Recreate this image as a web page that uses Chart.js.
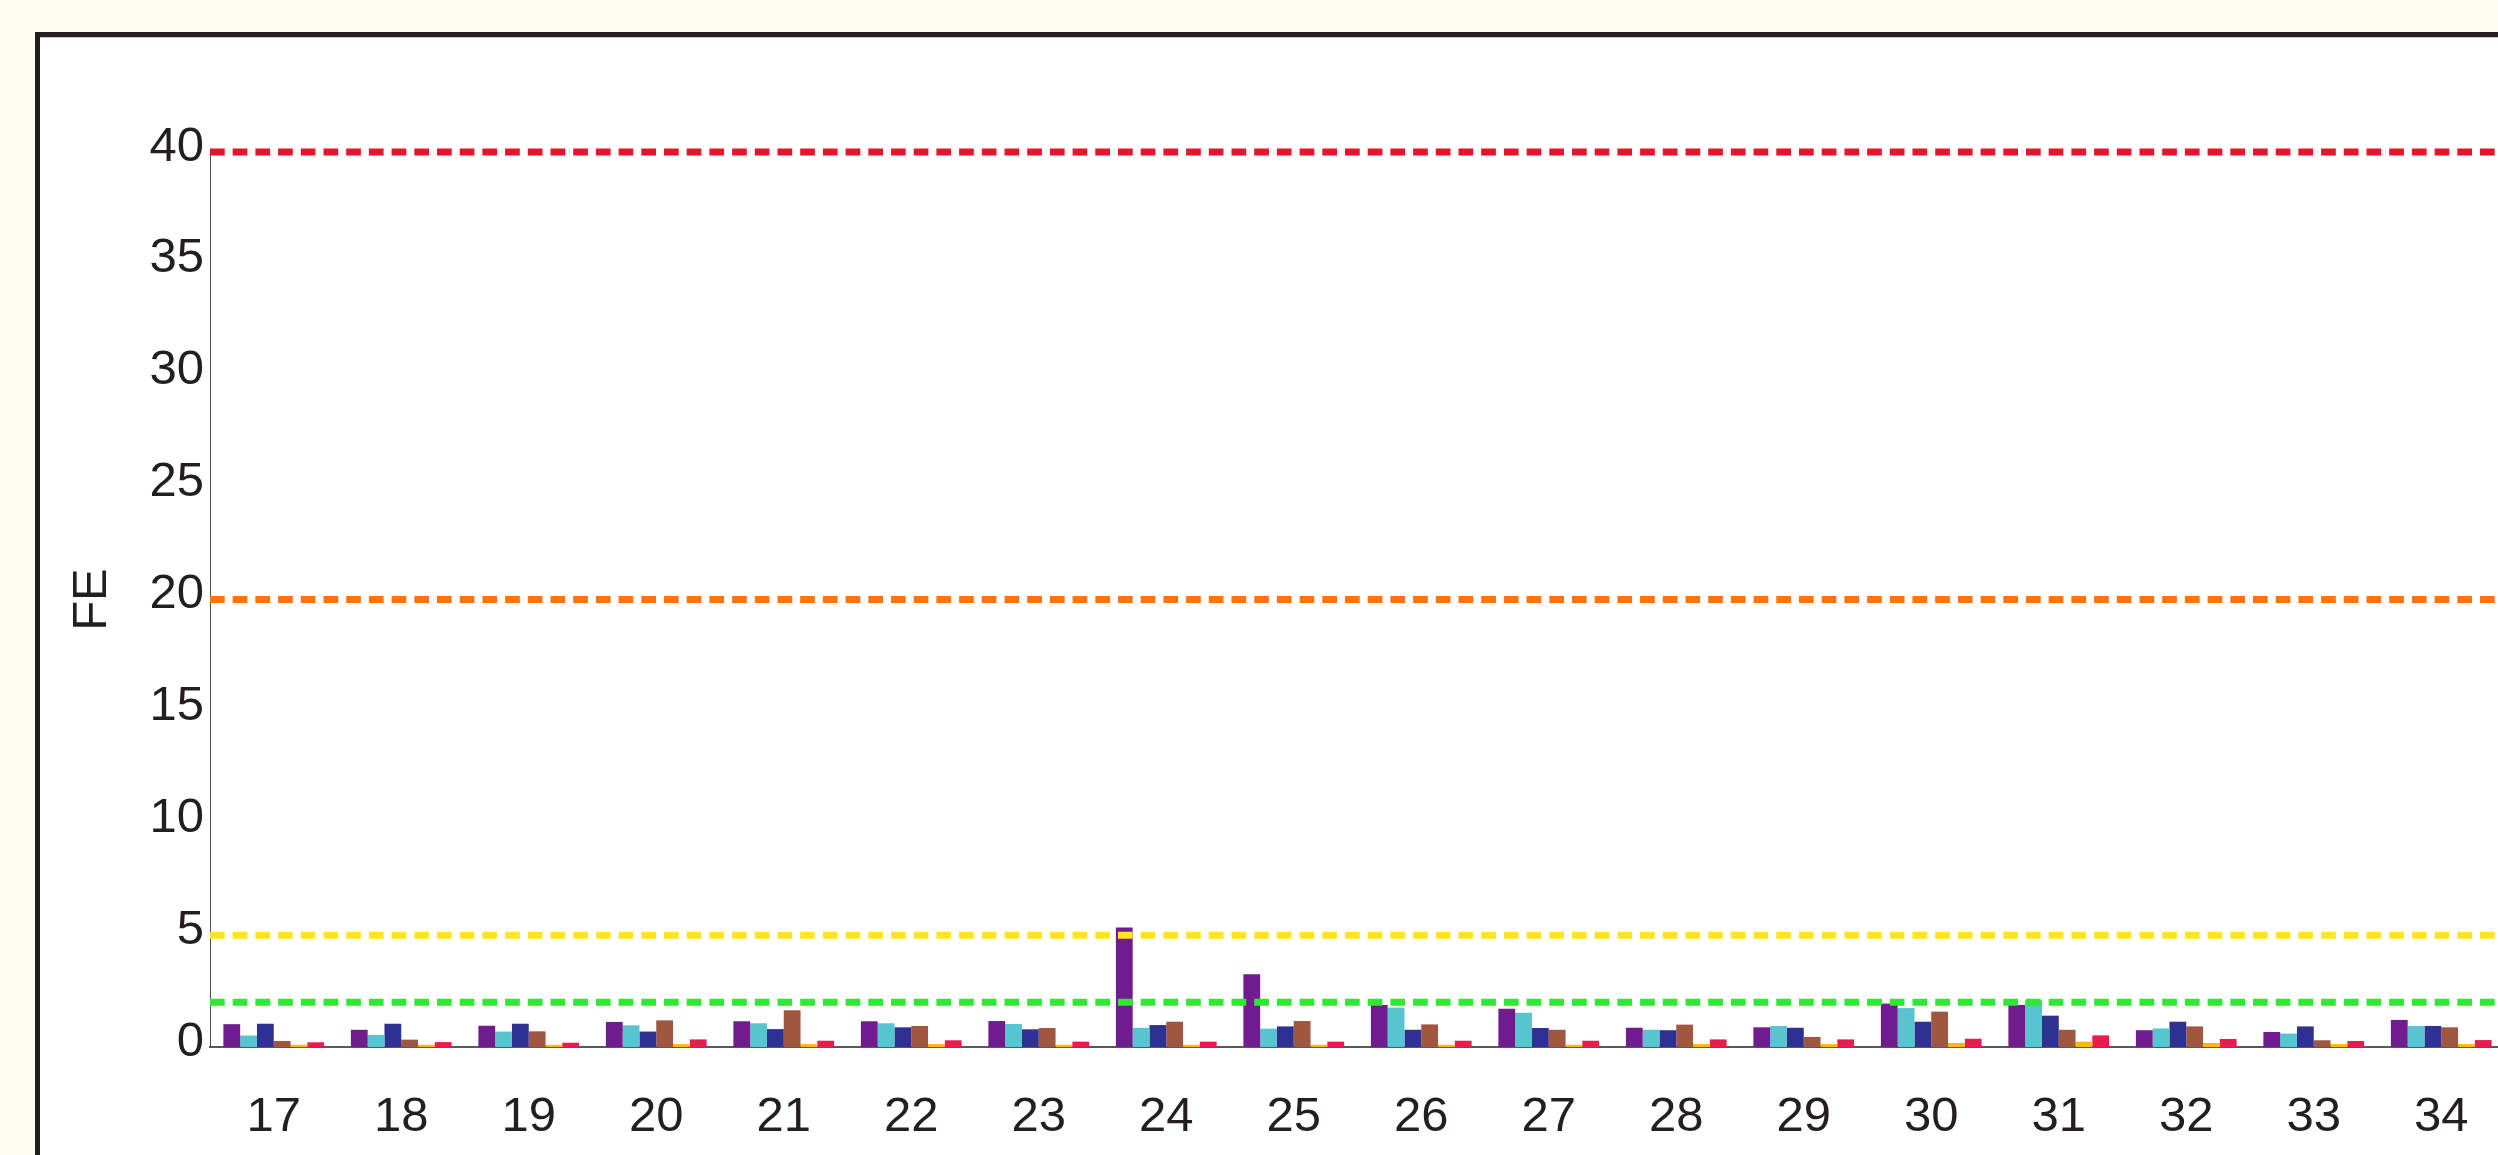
<!DOCTYPE html>
<html>
<head>
<meta charset="utf-8">
<script src="https://cdn.jsdelivr.net/npm/chart.js@4.4.1/dist/chart.umd.min.js"></script>
<style>
html, body { margin: 0; padding: 0; background: #FFFCF2; overflow: hidden; width: 2498px; height: 1155px; }
#frame { position: absolute; left: 35px; top: 32px; width: 2600px; height: 1300px; border: 5px solid #231F20; box-sizing: border-box; background: #fff; box-shadow: inset 0 1px 0 #c4c4c4; }
#myChart { position: absolute; left: 0; top: 0; }
</style>
</head>
<body>
<div id="frame"></div>
<canvas id="myChart" width="2520" height="1155"></canvas>
<script>
const categories = ['17', '18', '19', '20', '21', '22', '23', '24', '25', '26', '27', '28', '29', '30', '31', '32', '33', '34'];

const purpleSeries = [1.02, 0.77, 0.95, 1.12, 1.15, 1.15, 1.16, 5.34, 3.25, 1.88, 1.71, 0.86, 0.88, 1.94, 1.88, 0.75, 0.67, 1.21];
const cyanSeries   = [0.51, 0.54, 0.69, 0.97, 1.06, 1.06, 1.03, 0.86, 0.82, 1.76, 1.53, 0.77, 0.94, 1.74, 2.09, 0.83, 0.60, 0.94];
const navySeries   = [1.04, 1.04, 1.04, 0.69, 0.80, 0.88, 0.79, 0.98, 0.92, 0.77, 0.85, 0.75, 0.86, 1.13, 1.40, 1.13, 0.92, 0.94];
const brownSeries  = [0.27, 0.33, 0.70, 1.19, 1.64, 0.94, 0.85, 1.13, 1.16, 1.01, 0.77, 1.00, 0.45, 1.58, 0.77, 0.92, 0.30, 0.88];
const goldSeries   = [0.10, 0.10, 0.10, 0.13, 0.13, 0.13, 0.10, 0.10, 0.10, 0.10, 0.10, 0.13, 0.13, 0.18, 0.24, 0.18, 0.13, 0.13];
const redSeries    = [0.21, 0.22, 0.19, 0.34, 0.28, 0.30, 0.24, 0.24, 0.24, 0.28, 0.28, 0.34, 0.34, 0.37, 0.52, 0.36, 0.27, 0.31];

const thresholds = [40, 20, 5, 2];
const thresholdColours = ['#E8132D', '#FF7410', '#FFE420', '#2EE831'];

const yMin = 0;
const yMax = 40;
const yStep = 5;

const textColour = '#231F20';
const fontFamily = "'Liberation Sans', Arial, Helvetica, sans-serif";

// dashed reference lines, drawn over the bars
const thresholdLines = {
    id: 'thresholdLines',
    afterDatasetsDraw(chart) {
        const ctx = chart.ctx;
        const yScale = chart.scales.y;
        const area = chart.chartArea;
        ctx.save();
        ctx.lineWidth = 7;
        ctx.setLineDash([14.7, 8]);
        thresholds.forEach((value, i) => {
            const py = yScale.getPixelForValue(value);
            ctx.strokeStyle = thresholdColours[i];
            ctx.beginPath();
            ctx.moveTo(area.left, py);
            ctx.lineTo(chart.width, py);
            ctx.stroke();
        });
        ctx.restore();
    }
};

function makeSet(label, values, colour) {
    return {
        label: label,
        data: values,
        backgroundColor: colour,
        borderWidth: 0,
        barPercentage: 1,
        categoryPercentage: 0.79
    };
}

const data = {
    labels: categories,
    datasets: [
        makeSet('Series 1', purpleSeries, '#701C8F'),
        makeSet('Series 2', cyanSeries, '#56C5D0'),
        makeSet('Series 3', navySeries, '#2E3192'),
        makeSet('Series 4', brownSeries, '#A0563F'),
        makeSet('Series 5', goldSeries, '#FBB613'),
        makeSet('Series 6', redSeries, '#EC1A4F')
    ]
};

const config = {
    type: 'bar',
    data: data,
    plugins: [thresholdLines],
    options: {
        responsive: false,
        animation: false,
        devicePixelRatio: 1,
        layout: {
            padding: { left: 0, right: 15, top: 152, bottom: 0 }
        },
        plugins: {
            legend: { display: false },
            tooltip: { enabled: false }
        },
        scales: {
            x: {
                z: 1,
                grid: { display: false, drawTicks: false },
                border: { display: true, color: '#58595B', width: 2 },
                ticks: {
                    color: textColour,
                    padding: 41,
                    maxRotation: 0,
                    font: { family: fontFamily, size: 49, lineHeight: 1.2 }
                },
                afterFit: function(scale) { scale.height = 108; }
            },
            y: {
                min: yMin,
                max: yMax,
                grid: { display: false, drawTicks: false },
                border: { display: true, color: '#4D4D4F', width: 1 },
                ticks: {
                    stepSize: yStep,
                    color: textColour,
                    padding: 6,
                    labelOffset: -5,
                    font: { family: fontFamily, size: 49, lineHeight: 1.2 }
                },
                title: {
                    display: true,
                    text: 'FE',
                    color: textColour,
                    padding: { top: 63, bottom: 0 },
                    font: { family: fontFamily, size: 49, lineHeight: 1.2 }
                },
                afterFit: function(scale) { scale.width = 210; }
            }
        }
    }
};

const myChart = new Chart(
    document.getElementById('myChart'),
    config
);
</script>
</body>
</html>
